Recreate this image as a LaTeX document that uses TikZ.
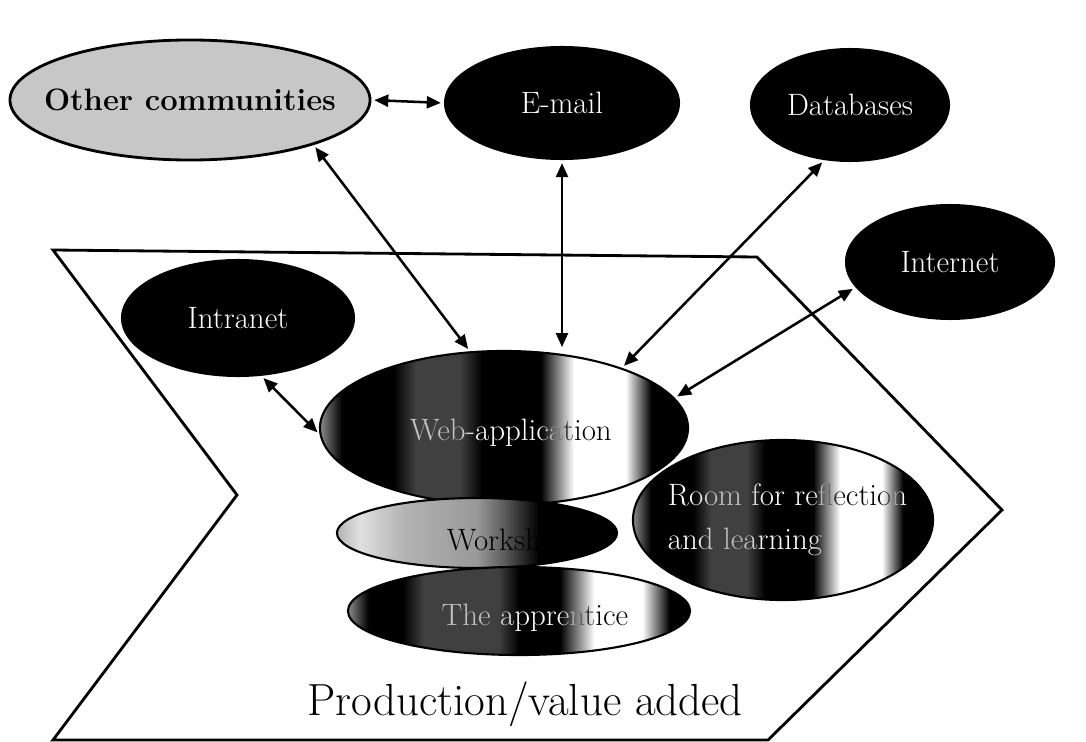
\documentclass[tikz,border=0pt]{standalone}
\usetikzlibrary{arrows.meta, shapes.geometric}

% metal-like stripe fills of the middle ellipses
\pgfdeclarehorizontalshading{metal}{100bp}{color(0bp)=(black!45); color(25bp)=(black!45);
  color(28bp)=(black); color(35bp)=(black); color(38bp)=(black!75); color(44bp)=(black!75);
  color(47bp)=(black); color(55bp)=(black); color(59.5bp)=(white); color(66.5bp)=(white);
  color(70bp)=(black); color(100bp)=(black)}
\pgfdeclarehorizontalshading{metalr}{100bp}{color(0bp)=(black!45); color(25bp)=(black!45);
  color(28bp)=(black); color(33bp)=(black); color(36bp)=(black!75); color(47bp)=(black!75);
  color(50bp)=(black); color(56bp)=(black); color(61bp)=(white); color(68bp)=(white);
  color(72bp)=(black); color(100bp)=(black)}
\pgfdeclarehorizontalshading{pale}{100bp}{color(0bp)=(black!30); color(25bp)=(black!30);
  color(29bp)=(black!12); color(37bp)=(black!30); color(50bp)=(black!40);
  color(55bp)=(black!65); color(61bp)=(black); color(100bp)=(black)}

\begin{document}
\begin{tikzpicture}[
    x=0.025cm, y=-0.025cm,
    dnode/.style={ellipse, fill=black, text=white, inner sep=0pt,
                  font=\fontsize{22}{26}\selectfont},
    mnode/.style={ellipse, draw=black, line width=1.5pt, shading=metal, inner sep=0pt},
    tlabel/.style={text=white, font=\fontsize{22}{31}\selectfont},
    link/.style={<->, line width=1.8pt, shorten <=2pt, shorten >=2pt},
    >={Triangle[width=8.5pt,length=10pt]}
]
\useasboundingbox (0,0) rectangle (1086,742);

% chevron
\draw[line width=2pt, line join=miter] (53,250) -- (757,257) -- (1002,510) -- (768,740)
    -- (53,740) -- (237,495) -- cycle;
\node[font=\fontsize{32}{38}\selectfont, anchor=base] (prod) at (525,715) {Production/value added};

% --- outer ellipses ---
\node[ellipse, draw=black, line width=2pt, fill=black!22, inner xsep=-1cm, inner ysep=0pt,
      minimum width=9.0cm, minimum height=3.0cm,
      font=\fontsize{22}{26}\selectfont\bfseries] (oc) at (190,100) {Other communities};
\node[dnode, minimum width=5.9cm, minimum height=2.85cm] (email) at (562,103) {E-mail};
\node[dnode, minimum width=5.0cm, minimum height=2.85cm] (db) at (850,105) {Databases};
\node[dnode, minimum width=5.25cm, minimum height=2.9cm] (inet) at (950,262) {Internet};
\node[dnode, minimum width=5.85cm, minimum height=2.95cm] (intra) at (238,318) {Intranet};

% --- middle ellipses ---
\node[mnode, minimum width=9.2cm, minimum height=3.85cm] (web) at (504,428) {};
\node[ellipse, draw=black, line width=1.5pt, shading=pale, inner sep=0pt,
      minimum width=7.0cm, minimum height=1.75cm] (work) at (477,533) {};
\node[mnode, minimum width=7.5cm, minimum height=4.0cm] (room) at (783,520) {};
\node[mnode, shading=metalr, minimum width=8.55cm, minimum height=2.2cm] (appr) at (519,611) {};

\node[font=\fontsize{22}{26}\selectfont, anchor=base] (worktxt) at (509,550) {Workshop};
\begin{scope}[blend mode=difference]
  \node[tlabel] (webtxt) at (511,433) {Web-application};
  \node[tlabel, anchor=west, align=left] (roomtxt) at (663,520) {Room for reflection\\and learning};
  \node[tlabel, anchor=base] (apprtxt) at (535,625) {The apprentice};
\end{scope}

% --- links ---
\draw[link] (oc.east) -- (email.west);
\draw[link] (oc.-20) -- (web.114);
\draw[link] (email.south) -- (email.south |- web.north);
\draw[link] (db.245) -- (web.27);
\draw[link] (inet.195) -- (web.10);
\draw[link] (intra.-68) -- (web.182);

\end{tikzpicture}
\end{document}
